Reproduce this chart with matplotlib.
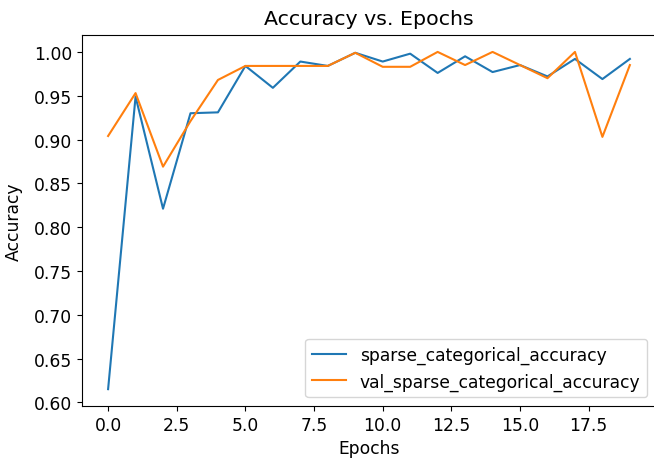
import matplotlib
matplotlib.use("Agg")
import matplotlib.pyplot as plt
import numpy as np

epochs = list(range(20))
train_acc = [0.615, 0.949, 0.821, 0.930, 0.931, 0.984, 0.959, 0.989, 0.984, 0.999,
             0.989, 0.998, 0.976, 0.995, 0.977, 0.985, 0.972, 0.992, 0.969, 0.992]
val_acc = [0.904, 0.953, 0.869, 0.921, 0.968, 0.984, 0.984, 0.984, 0.984, 0.999,
           0.983, 0.983, 1.000, 0.985, 1.000, 0.985, 0.970, 1.000, 0.903, 0.985]
series_labels = ["sparse_categorical_accuracy", "val_sparse_categorical_accuracy"]

plt.rcParams.update({'font.size': 12.3})
fig = plt.figure(figsize=(6.54, 4.64), dpi=100)
ax = fig.add_axes([0.1254, 0.1228, 0.8776, 0.7995])

ax.plot(epochs, train_acc, label=series_labels[0])
ax.plot(epochs, val_acc, label=series_labels[1])

ax.set_title("Accuracy vs. Epochs", pad=8)
ax.set_xlabel("Epochs", labelpad=4)
ax.set_ylabel("Accuracy", labelpad=8)
ax.set_xticks(np.arange(0, 20, 2.5))
ax.set_yticks(np.arange(0.60, 1.001, 0.05))
ax.legend(loc='lower right')

fig.savefig("out.png", dpi=100)
